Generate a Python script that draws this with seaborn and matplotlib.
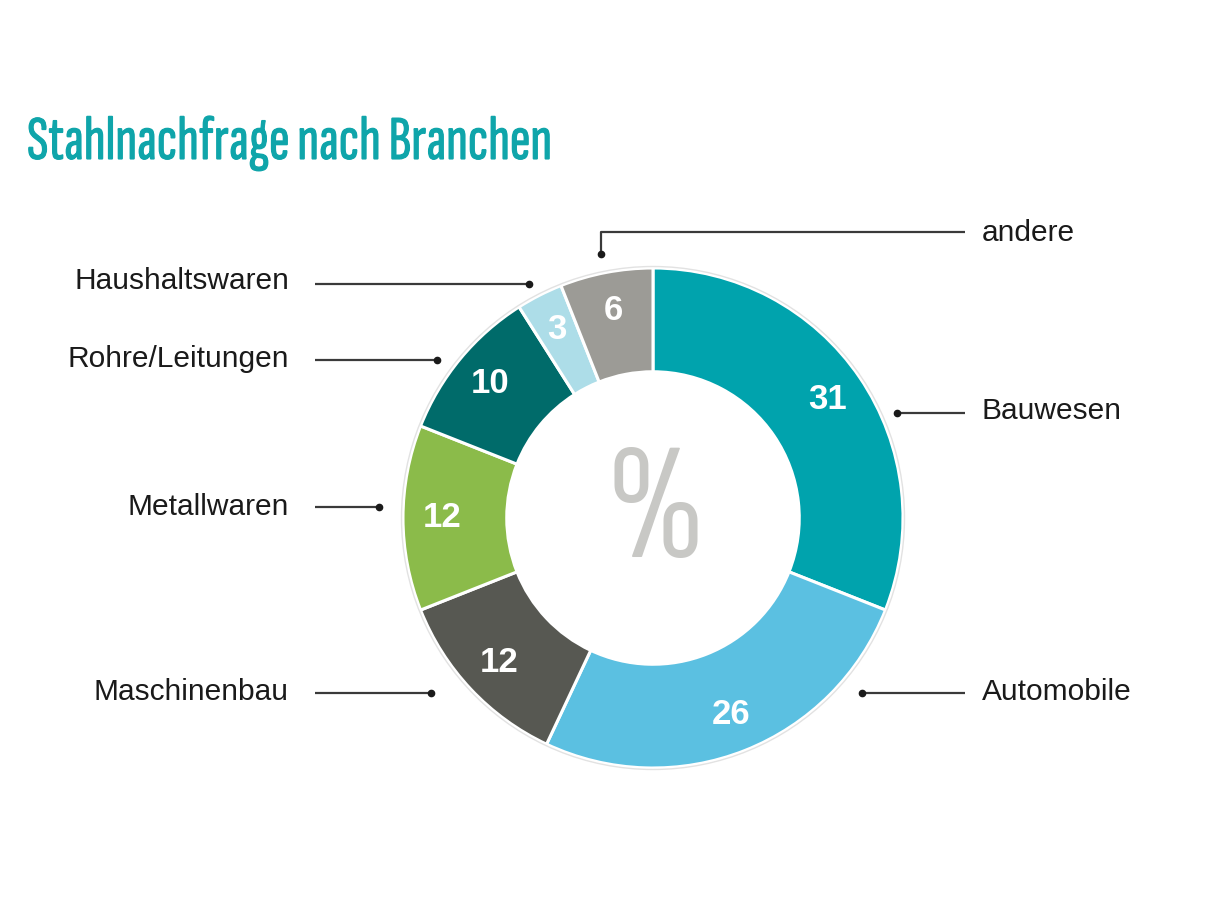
import matplotlib
matplotlib.use("Agg")
import matplotlib.pyplot as plt
import matplotlib.patheffects as pe
import seaborn as sns

sns.set_theme(style="white")
plt.rcParams['font.family'] = ['Liberation Sans', 'DejaVu Sans']

# ---- data ----
categories = ["Bauwesen", "Automobile", "Maschinenbau", "Metallwaren",
              "Rohre/Leitungen", "Haushaltswaren", "andere"]
values = [31, 26, 12, 12, 10, 3, 6]
colors = ["#00A3AD", "#5BC0E1", "#575852", "#8BBB4A", "#006B6A", "#ADDDE8", "#9C9B96"]
title = "Stahlnachfrage nach Branchen"
center_text = "%"

# ---- layout (pixel coordinates of the 1208x906 canvas, y downwards) ----
W, H = 1208, 906
def Y(y):
    return H - y

cx, cy, R = 653, 518, 250
ring_width = 0.415
COND = ['Sofia Sans Extra Condensed', 'DejaVu Sans']
TITLE_COLOR = "#0FA5AA"

# leader lines: (text_x, text_y, ha, line points starting at the dot)
leaders = {
    "andere":          (982, 233, "left",  [(601, 254), (601, 232), (965, 232)]),
    "Haushaltswaren":  (289, 281, "right", [(529, 284), (315, 284)]),
    "Rohre/Leitungen": (289, 359, "right", [(437, 360), (315, 360)]),
    "Metallwaren":     (289, 507, "right", [(379, 507), (315, 507)]),
    "Maschinenbau":    (289, 692, "right", [(431, 693), (315, 693)]),
    "Bauwesen":        (982, 411, "left",  [(897, 413), (965, 413)]),
    "Automobile":      (982, 692, "left",  [(862, 693), (965, 693)]),
}

fig = plt.figure(figsize=(W / 100, H / 100), dpi=100)
ax = fig.add_axes([0, 0, 1, 1])

wedges, texts, autotexts = ax.pie(
    values, colors=colors, startangle=90, counterclock=False,
    center=(cx, Y(cy)), radius=R,
    wedgeprops=dict(width=R * ring_width, edgecolor="white", linewidth=2.2),
    autopct=lambda p: f"{round(p)}", pctdistance=0.845,
    textprops=dict(color="white", fontsize=25, fontweight="bold"),
)

# faint outer outline
outline = plt.Circle((cx, Y(cy)), R + 1.5, fill=False, edgecolor="#E2E2E2", linewidth=1)
ax.add_patch(outline)

ax.set_xlim(0, W)
ax.set_ylim(0, H)
ax.set_aspect("equal")
ax.axis("off")

# center %
ax.text(cx + 2, Y(cy - 2), center_text, ha="center", va="center", fontsize=120,
        color="#C8C8C5", family=COND, fontweight="semibold")

# title
ax.text(27, Y(159), title, ha="left", va="baseline", fontsize=45,
        fontweight="semibold", color=TITLE_COLOR, family=COND,
        path_effects=[pe.withStroke(linewidth=0.8, foreground=TITLE_COLOR)])

# leader lines and labels
for lab in categories:
    tx, ty, ha, pts = leaders[lab]
    xs = [p[0] for p in pts]
    ys = [Y(p[1]) for p in pts]
    ax.plot(xs, ys, color="#3A3A3A", linewidth=1.6, solid_capstyle="butt")
    ax.plot([xs[0]], [ys[0]], "o", color="#1A1A1A", markersize=4.5)
    ax.text(tx, Y(ty), lab, ha=ha, va="center", fontsize=21.5, color="#1A1A1A")

fig.savefig("out.png", dpi=100, facecolor="white")
